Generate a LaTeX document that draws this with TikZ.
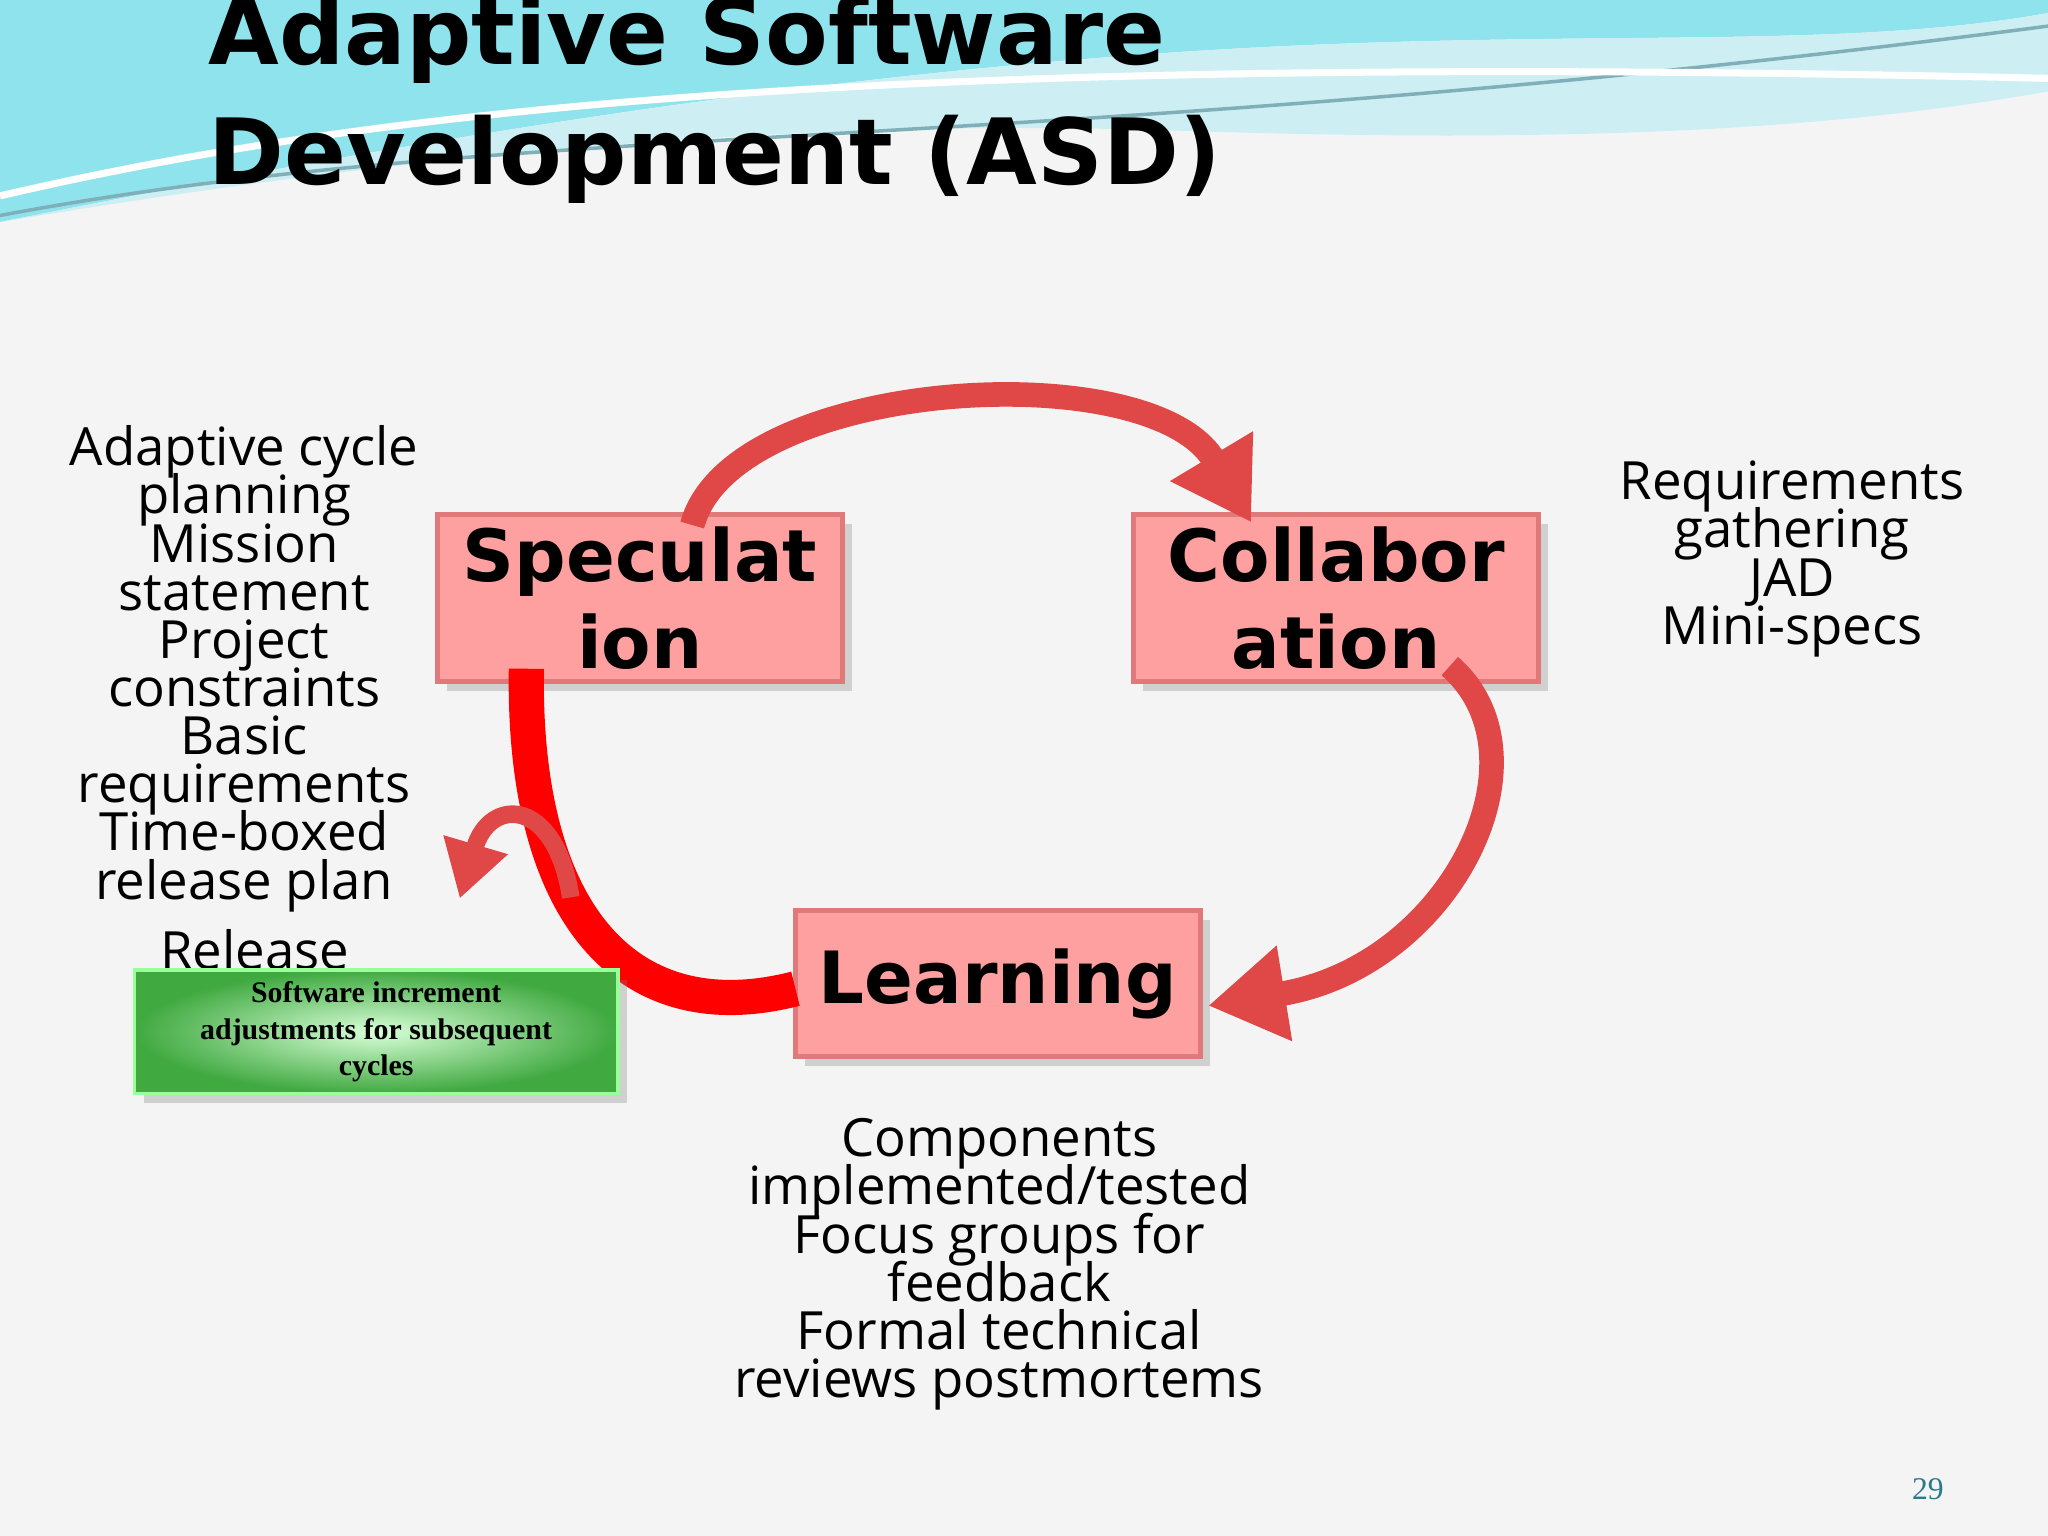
\documentclass[tikz,border=0pt]{standalone}
\usepackage{fontspec}
\setmainfont{Open Sans}
\newfontfamily\titlefont{DejaVu Sans}
\newfontfamily\serifb{Liberation Serif}
\usetikzlibrary{arrows.meta,shadows}
\definecolor{bg}{HTML}{F4F4F4}
\definecolor{boxfill}{HTML}{FFA0A0}
\definecolor{boxline}{HTML}{E07A7A}
\definecolor{arrowred}{HTML}{E04848}
\definecolor{wave1}{HTML}{8FE3EC}
\definecolor{wave2}{HTML}{CDEFF4}
\definecolor{teal}{HTML}{2A7A8A}
\newlength{\unitlen}\setlength{\unitlen}{0.013061cm}
\newcommand{\tightbody}{\fontsize{15}{13.7}\selectfont\lineskiplimit=-20pt\relax}
\tikzset{
  phase/.style={draw=boxline, line width=1.5pt, fill=boxfill, minimum width=310\unitlen, minimum height=112\unitlen, font=\titlefont\bfseries\fontsize{20.5}{25}\selectfont, align=center, drop shadow={opacity=0.3}},
  bodytext/.style={align=center, font=\tightbody},
  curarrow/.style={draw=arrowred, line width=7pt, -{Triangle[length=22pt,width=26pt]}},
}
\begin{document}
\begin{tikzpicture}[x=0.013061cm,y=-0.013061cm]
\fill[bg] (0,0) rectangle (1568,1176);
\useasboundingbox (0,0) rectangle (1568,1176);
% waves
\fill[wave1] (0,0) -- (0,170) .. controls (300,110) and (600,60) .. (900,40) .. controls (1200,20) and (1400,40) .. (1568,10) -- (1568,0) -- cycle;
\fill[wave2] (0,170) .. controls (300,110) and (600,60) .. (900,40) .. controls (1200,20) and (1400,40) .. (1568,10) -- (1568,70) .. controls (1400,100) and (1200,110) .. (900,100) .. controls (600,90) and (300,120) .. (0,170) -- cycle;
\draw[teal!60, line width=1pt] (0,165) .. controls (400,90) and (800,120) .. (1568,20);
\draw[white, line width=2pt] (0,150) .. controls (300,80) and (700,40) .. (1568,60);
% title
\node[anchor=west, font=\titlefont\bfseries\fontsize{26}{30}\selectfont] (t1) at (150,30) {Adaptive Software};
\node[anchor=west, font=\titlefont\bfseries\fontsize{26}{30}\selectfont] (t2) at (150,122) {Development (ASD)};
% boxes
\node[phase] (spec) at (490,458) {Speculat\\ion};
\node[phase] (coll) at (1023,458) {Collabor\\ation};
\node[phase] (learn) at (764,753) {Learning};
% arrows
\coordinate (a1) at (530,402);
\coordinate (a2) at (958,400);
\draw[curarrow] (a1) .. controls (560,290) and (880,270) .. (a2);
\coordinate (b1) at (1110,510);
\coordinate (b2) at (925,770);
\draw[curarrow] (b1) .. controls (1190,580) and (1110,740) .. (b2);
\coordinate (c1) at (403,512);
\coordinate (c2) at (609,757);
\draw[red, line width=10pt] (c1) .. controls (400,700) and (480,790) .. (c2);
\coordinate (d1) at (437,687);
\coordinate (d2) at (352,688);
\draw[draw=arrowred, line width=5pt, -{Triangle[length=16pt,width=18pt]}] (d1) .. controls (425,610) and (375,610) .. (d2);
% texts
\node[bodytext] (lt) at (187,512) {Adaptive cycle\\planning\\Mission\\statement\\Project\\constraints\\Basic\\requirements\\Time-boxed\\release plan};
\node[bodytext] (rt) at (1372,428) {Requirements\\gathering\\JAD\\Mini-specs};
\node[bodytext] (bt) at (765,968) {Components\\implemented/tested\\Focus groups for\\feedback\\Formal technical\\reviews postmortems};
\node[font=\fontsize{15}{15}\selectfont] (rel) at (195,727) {Release};
\node[draw=green!40!white, line width=1pt, minimum width=370\unitlen, minimum height=90\unitlen, inner color=green!15!white, outer color=green!55!black!75!white, drop shadow={opacity=0.3}, align=center, font=\serifb\bfseries\fontsize{8.5}{10.3}\selectfont] (sw) at (288,790) {Software increment\\adjustments for subsequent\\cycles};
\node[text=teal, font=\serifb\fontsize{9}{9}\selectfont] (pg) at (1476,1140) {29};
\end{tikzpicture}
\end{document}
